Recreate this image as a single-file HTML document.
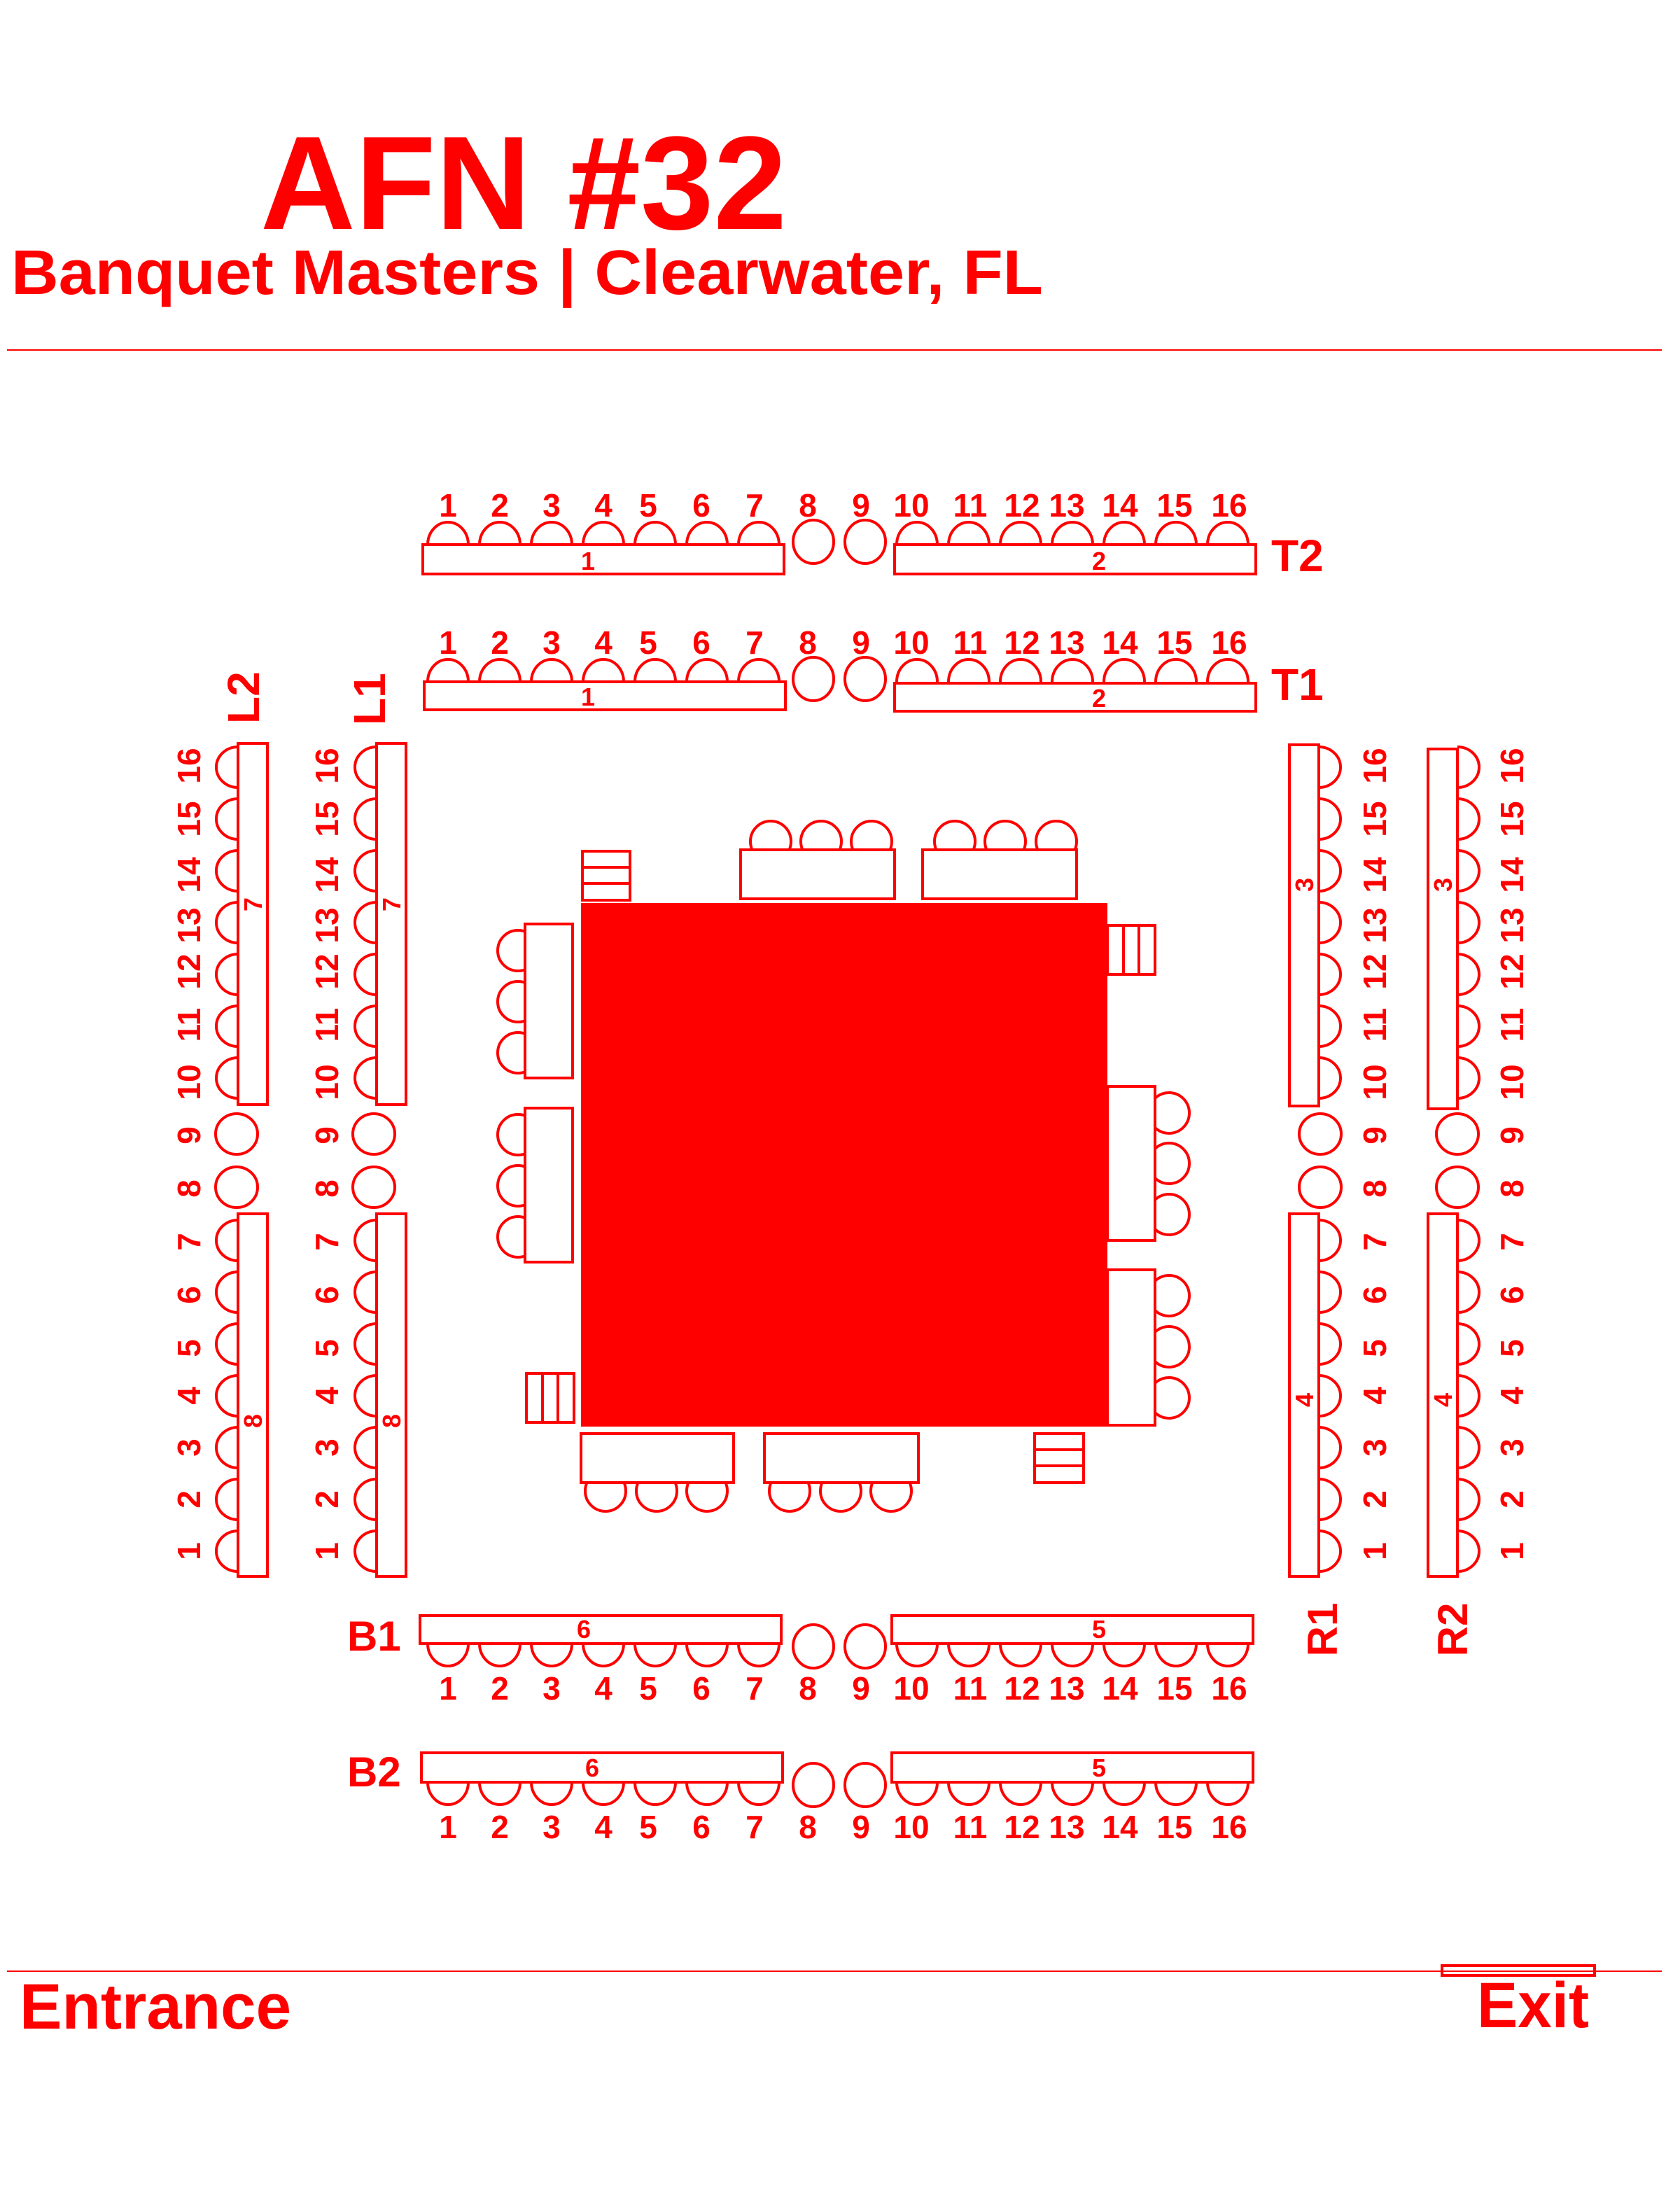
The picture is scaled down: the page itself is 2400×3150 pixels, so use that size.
<!DOCTYPE html>
<html><head><meta charset="utf-8"><style>
html,body{margin:0;padding:0;background:#fff;}
svg{display:block;}
text{font-family:"Liberation Sans",sans-serif;font-weight:bold;fill:#ff0000;}
.n{font-size:46px;text-anchor:middle;}
.t{font-size:36px;text-anchor:middle;}
.s{fill:none;stroke:#ff0000;stroke-width:4;}
.w{fill:#fff;stroke:#ff0000;stroke-width:4;}
</style></head><body>
<svg width="2400" height="3150" viewBox="0 0 2400 3150" xmlns="http://www.w3.org/2000/svg">
<defs>
<path id="cu" class="s" d="M-29 0 A29 32 0 0 1 29 0"/>
<path id="cd" class="s" d="M-29 0 A29 32 0 0 0 29 0"/>
<path id="cl" class="s" d="M0 -29 A31 29 0 0 0 0 29"/>
<path id="cr" class="s" d="M0 -29 A31 29 0 0 1 0 29"/>
</defs>

<text x="372" y="327" font-size="190" textLength="752" lengthAdjust="spacingAndGlyphs">AFN #32</text>
<text x="16" y="420" font-size="90" textLength="1474" lengthAdjust="spacingAndGlyphs">Banquet Masters | Clearwater, FL</text>
<line x1="10" y1="500" x2="2374" y2="500" stroke="#ff0000" stroke-width="2"/>
<line x1="10" y1="2816" x2="2374" y2="2816" stroke="#ff0000" stroke-width="2"/>
<text x="28" y="2898" font-size="92" textLength="388" lengthAdjust="spacingAndGlyphs">Entrance</text>
<text x="2110" y="2896" font-size="92" textLength="160" lengthAdjust="spacingAndGlyphs">Exit</text>
<rect x="2060" y="2808" width="218" height="14" class="s"/>

<!-- T2 -->
<g>
<use href="#cu" x="640" y="778"/><use href="#cu" x="714" y="778"/><use href="#cu" x="788" y="778"/><use href="#cu" x="862" y="778"/><use href="#cu" x="936" y="778"/><use href="#cu" x="1010" y="778"/><use href="#cu" x="1084" y="778"/>
<use href="#cu" x="1310" y="778"/><use href="#cu" x="1384" y="778"/><use href="#cu" x="1458" y="778"/><use href="#cu" x="1532" y="778"/><use href="#cu" x="1606" y="778"/><use href="#cu" x="1680" y="778"/><use href="#cu" x="1754" y="778"/>
<rect x="604" y="778" width="516" height="42" class="s"/><rect x="1278" y="778" width="516" height="42" class="s"/>
<ellipse cx="1162" cy="774" rx="29" ry="31" class="s"/><ellipse cx="1236" cy="774" rx="29" ry="31" class="s"/>
<text class="t" x="840" y="814">1</text><text class="t" x="1570" y="814">2</text>
<text class="n" x="640" y="738">1</text><text class="n" x="714" y="738">2</text><text class="n" x="788" y="738">3</text><text class="n" x="862" y="738">4</text><text class="n" x="926" y="738">5</text><text class="n" x="1002" y="738">6</text><text class="n" x="1078" y="738">7</text><text class="n" x="1154" y="738">8</text><text class="n" x="1230" y="738">9</text><text class="n" x="1302" y="738">10</text><text class="n" x="1386" y="738">11</text><text class="n" x="1460" y="738">12</text><text class="n" x="1524" y="738">13</text><text class="n" x="1600" y="738">14</text><text class="n" x="1678" y="738">15</text><text class="n" x="1756" y="738">16</text>
<text x="1816" y="816" font-size="64">T2</text>
</g>

<!-- T1 -->
<g>
<use href="#cu" x="640" y="974"/><use href="#cu" x="714" y="974"/><use href="#cu" x="788" y="974"/><use href="#cu" x="862" y="974"/><use href="#cu" x="936" y="974"/><use href="#cu" x="1010" y="974"/><use href="#cu" x="1084" y="974"/>
<use href="#cu" x="1310" y="974"/><use href="#cu" x="1384" y="974"/><use href="#cu" x="1458" y="974"/><use href="#cu" x="1532" y="974"/><use href="#cu" x="1606" y="974"/><use href="#cu" x="1680" y="974"/><use href="#cu" x="1754" y="974"/>
<rect x="606" y="974" width="516" height="40" class="s"/><rect x="1278" y="976" width="516" height="40" class="s"/>
<ellipse cx="1162" cy="970" rx="29" ry="31" class="s"/><ellipse cx="1236" cy="970" rx="29" ry="31" class="s"/>
<text class="t" x="840" y="1008">1</text><text class="t" x="1570" y="1010">2</text>
<text class="n" x="640" y="934">1</text><text class="n" x="714" y="934">2</text><text class="n" x="788" y="934">3</text><text class="n" x="862" y="934">4</text><text class="n" x="926" y="934">5</text><text class="n" x="1002" y="934">6</text><text class="n" x="1078" y="934">7</text><text class="n" x="1154" y="934">8</text><text class="n" x="1230" y="934">9</text><text class="n" x="1302" y="934">10</text><text class="n" x="1386" y="934">11</text><text class="n" x="1460" y="934">12</text><text class="n" x="1524" y="934">13</text><text class="n" x="1600" y="934">14</text><text class="n" x="1678" y="934">15</text><text class="n" x="1756" y="934">16</text>
<text x="1816" y="1000" font-size="64">T1</text>
</g>

<!-- B1 -->
<g>
<use href="#cd" x="640" y="2348"/><use href="#cd" x="714" y="2348"/><use href="#cd" x="788" y="2348"/><use href="#cd" x="862" y="2348"/><use href="#cd" x="936" y="2348"/><use href="#cd" x="1010" y="2348"/><use href="#cd" x="1084" y="2348"/>
<use href="#cd" x="1310" y="2348"/><use href="#cd" x="1384" y="2348"/><use href="#cd" x="1458" y="2348"/><use href="#cd" x="1532" y="2348"/><use href="#cd" x="1606" y="2348"/><use href="#cd" x="1680" y="2348"/><use href="#cd" x="1754" y="2348"/>
<rect x="600" y="2308" width="516" height="40" class="s"/><rect x="1274" y="2308" width="516" height="40" class="s"/>
<ellipse cx="1162" cy="2352" rx="29" ry="31" class="s"/><ellipse cx="1236" cy="2352" rx="29" ry="31" class="s"/>
<text class="t" x="834" y="2340">6</text><text class="t" x="1570" y="2340">5</text>
<text class="n" x="640" y="2428">1</text><text class="n" x="714" y="2428">2</text><text class="n" x="788" y="2428">3</text><text class="n" x="862" y="2428">4</text><text class="n" x="926" y="2428">5</text><text class="n" x="1002" y="2428">6</text><text class="n" x="1078" y="2428">7</text><text class="n" x="1154" y="2428">8</text><text class="n" x="1230" y="2428">9</text><text class="n" x="1302" y="2428">10</text><text class="n" x="1386" y="2428">11</text><text class="n" x="1460" y="2428">12</text><text class="n" x="1524" y="2428">13</text><text class="n" x="1600" y="2428">14</text><text class="n" x="1678" y="2428">15</text><text class="n" x="1756" y="2428">16</text>
<text x="496" y="2358" font-size="60">B1</text>
</g>

<!-- B2 -->
<g>
<use href="#cd" x="640" y="2546"/><use href="#cd" x="714" y="2546"/><use href="#cd" x="788" y="2546"/><use href="#cd" x="862" y="2546"/><use href="#cd" x="936" y="2546"/><use href="#cd" x="1010" y="2546"/><use href="#cd" x="1084" y="2546"/>
<use href="#cd" x="1310" y="2546"/><use href="#cd" x="1384" y="2546"/><use href="#cd" x="1458" y="2546"/><use href="#cd" x="1532" y="2546"/><use href="#cd" x="1606" y="2546"/><use href="#cd" x="1680" y="2546"/><use href="#cd" x="1754" y="2546"/>
<rect x="602" y="2504" width="516" height="42" class="s"/><rect x="1274" y="2504" width="516" height="42" class="s"/>
<ellipse cx="1162" cy="2550" rx="29" ry="31" class="s"/><ellipse cx="1236" cy="2550" rx="29" ry="31" class="s"/>
<text class="t" x="846" y="2538">6</text><text class="t" x="1570" y="2538">5</text>
<text class="n" x="640" y="2626">1</text><text class="n" x="714" y="2626">2</text><text class="n" x="788" y="2626">3</text><text class="n" x="862" y="2626">4</text><text class="n" x="926" y="2626">5</text><text class="n" x="1002" y="2626">6</text><text class="n" x="1078" y="2626">7</text><text class="n" x="1154" y="2626">8</text><text class="n" x="1230" y="2626">9</text><text class="n" x="1302" y="2626">10</text><text class="n" x="1386" y="2626">11</text><text class="n" x="1460" y="2626">12</text><text class="n" x="1524" y="2626">13</text><text class="n" x="1600" y="2626">14</text><text class="n" x="1678" y="2626">15</text><text class="n" x="1756" y="2626">16</text>
<text x="496" y="2552" font-size="60">B2</text>
</g>

<!-- L2 -->
<g>
<use href="#cl" x="340" y="1096"/><use href="#cl" x="340" y="1170"/><use href="#cl" x="340" y="1244"/><use href="#cl" x="340" y="1318"/><use href="#cl" x="340" y="1392"/><use href="#cl" x="340" y="1466"/><use href="#cl" x="340" y="1540"/>
<use href="#cl" x="340" y="1772"/><use href="#cl" x="340" y="1846"/><use href="#cl" x="340" y="1920"/><use href="#cl" x="340" y="1994"/><use href="#cl" x="340" y="2068"/><use href="#cl" x="340" y="2142"/><use href="#cl" x="340" y="2216"/>
<rect x="340" y="1062" width="42" height="516" class="s"/><rect x="340" y="1734" width="42" height="518" class="s"/>
<ellipse cx="338" cy="1620" rx="30" ry="29" class="s"/><ellipse cx="338" cy="1696" rx="30" ry="29" class="s"/>
<text class="t" transform="translate(374,1292) rotate(-90)">7</text><text class="t" transform="translate(374,2030) rotate(-90)">8</text>
<text x="0" y="0" font-size="64" transform="translate(370,1034) rotate(-90)">L2</text>
</g>
<g class="n">
<text class="n" transform="translate(286,2216) rotate(-90)">1</text><text class="n" transform="translate(286,2142) rotate(-90)">2</text><text class="n" transform="translate(286,2068) rotate(-90)">3</text><text class="n" transform="translate(286,1994) rotate(-90)">4</text><text class="n" transform="translate(286,1926) rotate(-90)">5</text><text class="n" transform="translate(286,1850) rotate(-90)">6</text><text class="n" transform="translate(286,1774) rotate(-90)">7</text><text class="n" transform="translate(286,1698) rotate(-90)">8</text><text class="n" transform="translate(286,1622) rotate(-90)">9</text><text class="n" transform="translate(286,1546) rotate(-90)">10</text><text class="n" transform="translate(286,1464) rotate(-90)">11</text><text class="n" transform="translate(286,1388) rotate(-90)">12</text><text class="n" transform="translate(286,1322) rotate(-90)">13</text><text class="n" transform="translate(286,1250) rotate(-90)">14</text><text class="n" transform="translate(286,1170) rotate(-90)">15</text><text class="n" transform="translate(286,1094) rotate(-90)">16</text>
</g>

<!-- L1 -->
<g>
<use href="#cl" x="538" y="1096"/><use href="#cl" x="538" y="1170"/><use href="#cl" x="538" y="1244"/><use href="#cl" x="538" y="1318"/><use href="#cl" x="538" y="1392"/><use href="#cl" x="538" y="1466"/><use href="#cl" x="538" y="1540"/>
<use href="#cl" x="538" y="1772"/><use href="#cl" x="538" y="1846"/><use href="#cl" x="538" y="1920"/><use href="#cl" x="538" y="1994"/><use href="#cl" x="538" y="2068"/><use href="#cl" x="538" y="2142"/><use href="#cl" x="538" y="2216"/>
<rect x="538" y="1062" width="42" height="516" class="s"/><rect x="538" y="1734" width="42" height="518" class="s"/>
<ellipse cx="534" cy="1620" rx="30" ry="29" class="s"/><ellipse cx="534" cy="1696" rx="30" ry="29" class="s"/>
<text class="t" transform="translate(572,1292) rotate(-90)">7</text><text class="t" transform="translate(572,2030) rotate(-90)">8</text>
<text font-size="64" transform="translate(550,1036) rotate(-90)">L1</text>
</g>
<g>
<text class="n" transform="translate(483,2216) rotate(-90)">1</text><text class="n" transform="translate(483,2142) rotate(-90)">2</text><text class="n" transform="translate(483,2068) rotate(-90)">3</text><text class="n" transform="translate(483,1994) rotate(-90)">4</text><text class="n" transform="translate(483,1926) rotate(-90)">5</text><text class="n" transform="translate(483,1850) rotate(-90)">6</text><text class="n" transform="translate(483,1774) rotate(-90)">7</text><text class="n" transform="translate(483,1698) rotate(-90)">8</text><text class="n" transform="translate(483,1622) rotate(-90)">9</text><text class="n" transform="translate(483,1546) rotate(-90)">10</text><text class="n" transform="translate(483,1464) rotate(-90)">11</text><text class="n" transform="translate(483,1388) rotate(-90)">12</text><text class="n" transform="translate(483,1322) rotate(-90)">13</text><text class="n" transform="translate(483,1250) rotate(-90)">14</text><text class="n" transform="translate(483,1170) rotate(-90)">15</text><text class="n" transform="translate(483,1094) rotate(-90)">16</text>
</g>

<!-- R1 -->
<g>
<use href="#cr" x="1884" y="1096"/><use href="#cr" x="1884" y="1170"/><use href="#cr" x="1884" y="1244"/><use href="#cr" x="1884" y="1318"/><use href="#cr" x="1884" y="1392"/><use href="#cr" x="1884" y="1466"/><use href="#cr" x="1884" y="1540"/>
<use href="#cr" x="1884" y="1772"/><use href="#cr" x="1884" y="1846"/><use href="#cr" x="1884" y="1920"/><use href="#cr" x="1884" y="1994"/><use href="#cr" x="1884" y="2068"/><use href="#cr" x="1884" y="2142"/><use href="#cr" x="1884" y="2216"/>
<rect x="1842" y="1064" width="42" height="516" class="s"/><rect x="1842" y="1734" width="42" height="518" class="s"/>
<ellipse cx="1886" cy="1620" rx="30" ry="29" class="s"/><ellipse cx="1886" cy="1696" rx="30" ry="29" class="s"/>
<text class="t" transform="translate(1876,1264) rotate(-90)">3</text><text class="t" transform="translate(1876,2000) rotate(-90)">4</text>
<text font-size="60" text-anchor="middle" transform="translate(1910,2328) rotate(-90)">R1</text>
</g>
<g>
<text class="n" transform="translate(1980,2216) rotate(-90)">1</text><text class="n" transform="translate(1980,2142) rotate(-90)">2</text><text class="n" transform="translate(1980,2068) rotate(-90)">3</text><text class="n" transform="translate(1980,1994) rotate(-90)">4</text><text class="n" transform="translate(1980,1926) rotate(-90)">5</text><text class="n" transform="translate(1980,1850) rotate(-90)">6</text><text class="n" transform="translate(1980,1774) rotate(-90)">7</text><text class="n" transform="translate(1980,1698) rotate(-90)">8</text><text class="n" transform="translate(1980,1622) rotate(-90)">9</text><text class="n" transform="translate(1980,1546) rotate(-90)">10</text><text class="n" transform="translate(1980,1464) rotate(-90)">11</text><text class="n" transform="translate(1980,1388) rotate(-90)">12</text><text class="n" transform="translate(1980,1322) rotate(-90)">13</text><text class="n" transform="translate(1980,1250) rotate(-90)">14</text><text class="n" transform="translate(1980,1170) rotate(-90)">15</text><text class="n" transform="translate(1980,1094) rotate(-90)">16</text>
</g>

<!-- R2 -->
<g>
<use href="#cr" x="2082" y="1096"/><use href="#cr" x="2082" y="1170"/><use href="#cr" x="2082" y="1244"/><use href="#cr" x="2082" y="1318"/><use href="#cr" x="2082" y="1392"/><use href="#cr" x="2082" y="1466"/><use href="#cr" x="2082" y="1540"/>
<use href="#cr" x="2082" y="1772"/><use href="#cr" x="2082" y="1846"/><use href="#cr" x="2082" y="1920"/><use href="#cr" x="2082" y="1994"/><use href="#cr" x="2082" y="2068"/><use href="#cr" x="2082" y="2142"/><use href="#cr" x="2082" y="2216"/>
<rect x="2040" y="1070" width="42" height="514" class="s"/><rect x="2040" y="1734" width="42" height="518" class="s"/>
<ellipse cx="2082" cy="1620" rx="30" ry="29" class="s"/><ellipse cx="2082" cy="1696" rx="30" ry="29" class="s"/>
<text class="t" transform="translate(2074,1264) rotate(-90)">3</text><text class="t" transform="translate(2074,2000) rotate(-90)">4</text>
<text font-size="60" text-anchor="middle" transform="translate(2096,2328) rotate(-90)">R2</text>
</g>
<g>
<text class="n" transform="translate(2176,2216) rotate(-90)">1</text><text class="n" transform="translate(2176,2142) rotate(-90)">2</text><text class="n" transform="translate(2176,2068) rotate(-90)">3</text><text class="n" transform="translate(2176,1994) rotate(-90)">4</text><text class="n" transform="translate(2176,1926) rotate(-90)">5</text><text class="n" transform="translate(2176,1850) rotate(-90)">6</text><text class="n" transform="translate(2176,1774) rotate(-90)">7</text><text class="n" transform="translate(2176,1698) rotate(-90)">8</text><text class="n" transform="translate(2176,1622) rotate(-90)">9</text><text class="n" transform="translate(2176,1546) rotate(-90)">10</text><text class="n" transform="translate(2176,1464) rotate(-90)">11</text><text class="n" transform="translate(2176,1388) rotate(-90)">12</text><text class="n" transform="translate(2176,1322) rotate(-90)">13</text><text class="n" transform="translate(2176,1250) rotate(-90)">14</text><text class="n" transform="translate(2176,1170) rotate(-90)">15</text><text class="n" transform="translate(2176,1094) rotate(-90)">16</text>
</g>

<!-- Center -->
<rect x="830" y="1290" width="752" height="748" fill="#ff0000"/>
<!-- top tables -->
<circle cx="1101" cy="1202" r="29" class="s"/><circle cx="1173" cy="1202" r="29" class="s"/><circle cx="1245" cy="1202" r="29" class="s"/>
<rect x="1058" y="1214" width="220" height="70" class="w"/>
<circle cx="1364" cy="1202" r="29" class="s"/><circle cx="1436" cy="1202" r="29" class="s"/><circle cx="1509" cy="1202" r="29" class="s"/>
<rect x="1318" y="1214" width="220" height="70" class="w"/>
<!-- top-left stack -->
<rect x="832" y="1216" width="68" height="70" class="s"/><line x1="832" y1="1239" x2="900" y2="1239" class="s"/><line x1="832" y1="1262" x2="900" y2="1262" class="s"/>
<!-- right stack -->
<rect x="1582" y="1322" width="68" height="70" class="s"/><line x1="1605" y1="1322" x2="1605" y2="1392" class="s"/><line x1="1627" y1="1322" x2="1627" y2="1392" class="s"/>
<!-- left tables -->
<circle cx="740" cy="1358" r="29" class="s"/><circle cx="740" cy="1431" r="29" class="s"/><circle cx="740" cy="1504" r="29" class="s"/>
<rect x="750" y="1320" width="68" height="220" class="w"/>
<circle cx="740" cy="1621" r="29" class="s"/><circle cx="740" cy="1694" r="29" class="s"/><circle cx="740" cy="1767" r="29" class="s"/>
<rect x="750" y="1583" width="68" height="220" class="w"/>
<!-- left bottom stack -->
<rect x="752" y="1962" width="68" height="70" class="s"/><line x1="775" y1="1962" x2="775" y2="2032" class="s"/><line x1="797" y1="1962" x2="797" y2="2032" class="s"/>
<!-- right tables -->
<circle cx="1670" cy="1590" r="29" class="s"/><circle cx="1670" cy="1662" r="29" class="s"/><circle cx="1670" cy="1735" r="29" class="s"/>
<rect x="1582" y="1552" width="68" height="220" class="w"/>
<circle cx="1670" cy="1851" r="29" class="s"/><circle cx="1670" cy="1924" r="29" class="s"/><circle cx="1670" cy="1997" r="29" class="s"/>
<rect x="1582" y="1814" width="68" height="222" class="w"/>
<!-- bottom tables -->
<circle cx="865" cy="2130" r="29" class="s"/><circle cx="938" cy="2130" r="29" class="s"/><circle cx="1010" cy="2130" r="29" class="s"/>
<rect x="830" y="2048" width="218" height="70" class="w"/>
<circle cx="1128" cy="2130" r="29" class="s"/><circle cx="1201" cy="2130" r="29" class="s"/><circle cx="1273" cy="2130" r="29" class="s"/>
<rect x="1092" y="2048" width="220" height="70" class="w"/>
<!-- bottom right stack -->
<rect x="1478" y="2048" width="70" height="70" class="s"/><line x1="1478" y1="2071" x2="1548" y2="2071" class="s"/><line x1="1478" y1="2094" x2="1548" y2="2094" class="s"/>
</svg>
</body></html>
